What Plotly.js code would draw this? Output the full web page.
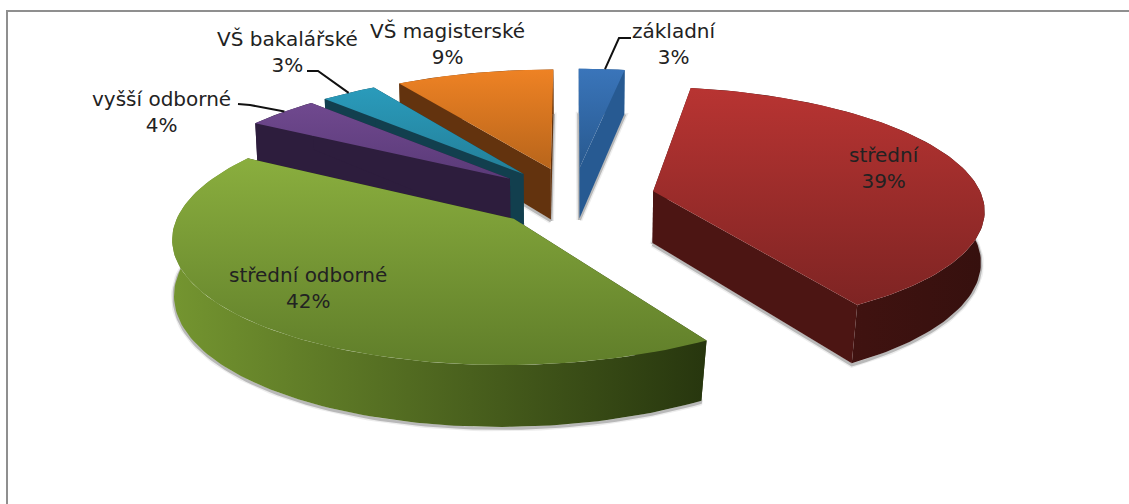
<!DOCTYPE html>
<html><head><meta charset="utf-8">
<script src="https://cdn.plot.ly/plotly-3.0.1.min.js"></script>
<style>html,body{margin:0;padding:0;background:#fff;overflow:hidden}#c{width:1129px;height:504px}</style>
</head><body><div id="c"></div>
<script>
// ---- data (slice sizes; labels show them rounded)
const categories = ["základní","střední","střední odborné","vyšší odborné","VŠ bakalářské","VŠ magisterské"];
const values = [2.6,38.6,42.4,4.2,3.2,9.0];
// ---- styles, one per slice
const faceTop = ["#3a75ba","#b83432","#8aae3e","#70498f","#2a9bbb","#ee8224"];
const faceBot = ["#28598f","#7e2423","#607e2a","#5a3a78","#237f99","#b8651b"];
const wallFar = ["#275a92","#4c1513","#749530","#2d1d3d","#123f4e","#63330e"];
const wallNear= ["#275a92","#36100e","#27360e","#2d1d3d","#123f4e","#63330e"];
const radial  = ["#275a92","#4c1513","#27360e","#2d1d3d","#123f4e","#63330e"];
const drawOrder = [5,0,1,4,3,2];
const labelPos = [[674,32],[884,156],[308,276],[161,100],[287,40],[447,32]];
const labelFont = "DejaVu Sans";
// ---- projection of the exploded pie
const cx=573, cy=197, A=329, B=120, K=0.135, H=52, EXPLODE=0.25;
function proj(X,F,bottom){
  const s=1/(1-K*F);
  if(!bottom) return [cx+A*X*s, cy+B*F*s];
  return [cx+A*X*s*0.992-4*Math.max(0,F), cy+B*F*s+H*s];
}
const total=values.reduce((a,b)=>a+b,0);
let acc=0;
const slices=values.map(v=>{const a0=acc/total*2*Math.PI;acc+=v;const a1=acc/total*2*Math.PI;return {a0,a1};});
function geom(i){
  const {a0,a1}=slices[i], m=(a0+a1)/2;
  const ex=EXPLODE*Math.sin(m), ef=-EXPLODE*Math.cos(m);
  const rim=[];
  const n=Math.max(6,Math.round((a1-a0)*40));
  for(let k=0;k<=n;k++){const a=a0+(a1-a0)*k/n;rim.push([ex+Math.sin(a),ef-Math.cos(a)]);}
  return {apex:[ex,ef],rim};
}
const traces=[];
function poly(pts,extra){
  traces.push(Object.assign({type:"scatter",mode:"lines",x:pts.map(p=>p[0]),y:pts.map(p=>p[1]),
    fill:"toself",line:{width:0},hoverinfo:"skip",showlegend:false},extra));
}
function grad(type,c0,c1,start,stop){
  return {type,colorscale:[[0,c0],[1,c1]],start,stop};
}
// soft shadows
drawOrder.forEach(i=>{
  const g=geom(i);
  const b=[proj(g.apex[0],g.apex[1],true),...g.rim.map(p=>proj(p[0],p[1],true))];
  b.push(b[0]);
  const sh=b.map(p=>[p[0],p[1]+1.5]);
  traces.push({type:"scatter",mode:"lines",x:sh.map(p=>p[0]),y:sh.map(p=>p[1]),
    line:{width:6,color:"rgba(0,0,0,0.07)"},hoverinfo:"skip",showlegend:false});
  traces.push({type:"scatter",mode:"lines",x:sh.map(p=>p[0]),y:sh.map(p=>p[1]),
    line:{width:3,color:"rgba(0,0,0,0.22)"},hoverinfo:"skip",showlegend:false});
});
drawOrder.forEach(i=>{
  const g=geom(i);
  const ap=proj(g.apex[0],g.apex[1]), apB=proj(g.apex[0],g.apex[1],true);
  const top=g.rim.map(p=>proj(p[0],p[1])), bot=g.rim.map(p=>proj(p[0],p[1],true));
  const last=top.length-1;
  // radial walls
  poly([ap,top[0],bot[0],apB,ap],{fillcolor:radial[i]});
  poly([ap,top[last],bot[last],apB,ap],{fillcolor:radial[i]});
  // outer wall
  const wall=[...top,...bot.slice().reverse(),top[0]];
  const xs=wall.map(p=>p[0]);
  poly(wall,{fillgradient:grad("horizontal",wallFar[i],wallNear[i],Math.min(...xs),Math.max(...xs))});
  // top face
  const face=[ap,...top,ap];
  const ys=face.map(p=>p[1]);
  poly(face,{fillgradient:grad("vertical",faceTop[i],faceBot[i],Math.min(...ys),Math.max(...ys))});
});
// ---- labels
const annotations=categories.map((c,i)=>({
  x:labelPos[i][0],y:labelPos[i][1]+12,xref:"x",yref:"y",showarrow:false,align:"center",
  text:c+"<br>"+Math.round(values[i])+"%",xanchor:"center",yanchor:"middle",
  font:{family:labelFont,size:20,color:"#222"}
}));
// ---- leader lines: from label to rim midpoint of its slice
function rimMid(i){const g=geom(i);const p=g.rim[Math.floor(g.rim.length/2)];return proj(p[0],p[1]);}
const lead=[[0,[631,38],[619,38]],[4,[307,71],[318,71]],[3,[238,104],[250,105]]];
const shapes=lead.map(l=>{const e=rimMid(l[0]);
  return {type:"path",xref:"x",yref:"y",path:`M${l[1][0]},${l[1][1]} L${l[2][0]},${l[2][1]} L${e[0]},${e[1]}`,
    line:{color:"#111",width:2}};});
// frame
shapes.push({type:"line",xref:"x",yref:"y",x0:6,x1:1129,y0:11,y1:11,line:{color:"#8f8f8f",width:2}});
shapes.push({type:"line",xref:"x",yref:"y",x0:7,x1:7,y0:10,y1:504,line:{color:"#8f8f8f",width:2}});
Plotly.newPlot("c",traces,{
  width:1129,height:504,margin:{l:0,r:0,t:0,b:0},paper_bgcolor:"#fff",plot_bgcolor:"#fff",showlegend:false,
  xaxis:{range:[0,1129],visible:false,fixedrange:true},
  yaxis:{range:[504,0],visible:false,fixedrange:true},
  annotations,shapes
},{staticPlot:true,displayModeBar:false});
</script></body></html>
